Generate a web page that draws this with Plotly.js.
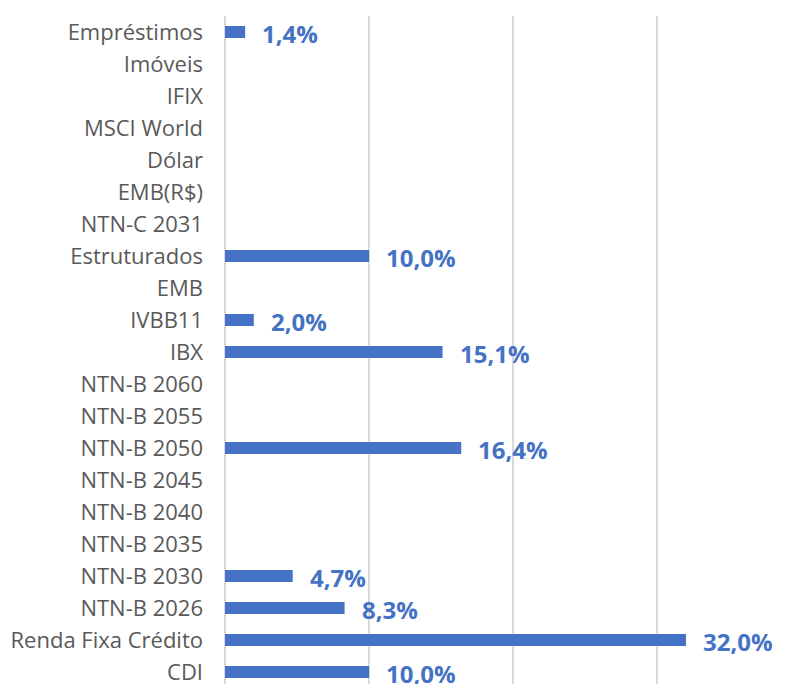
<!DOCTYPE html>
<html>
<head>
<meta charset="utf-8">
<script src="https://cdn.plot.ly/plotly-3.0.1.min.js"></script>
<style>html,body{margin:0;padding:0;background:#fff}#chart{width:794px;height:684px}</style>
</head>
<body>
<div id="chart"></div>
<script>
// Categories from bottom to top
const categories = ["CDI","Renda Fixa Crédito","NTN-B 2026","NTN-B 2030","NTN-B 2035","NTN-B 2040","NTN-B 2045","NTN-B 2050","NTN-B 2055","NTN-B 2060","IBX","IVBB11","EMB","Estruturados","NTN-C 2031","EMB(R$)","Dólar","MSCI World","IFIX","Imóveis","Empréstimos"];
const values = [0.100,0.320,0.083,0.047,null,null,null,0.164,null,null,0.151,0.020,null,0.100,null,null,null,null,null,null,0.014];

const fmt = v => (v*100).toFixed(1).replace('.', ',') + '%';

const annotations = [];
categories.forEach((c,i)=>{
  if (values[i] !== null) {
    annotations.push({
      x: values[i], y: c, xref:'x', yref:'y', text: fmt(values[i]),
      showarrow:false, xanchor:'left', yanchor:'middle', xshift:15, yshift:-1,
      font:{family:'"Open Sans", "Noto Sans", sans-serif', size:24, color:'#4472C4', weight:'bold'}
    });
  }
});

const trace = {
  type:'bar', orientation:'h', x: values, y: categories,
  marker:{color:'#4472C4'}, hoverinfo:'none'
};

const layout = {
  width:794, height:684,
  margin:{l:225, r:0, t:16, b:0},
  paper_bgcolor:'#fff', plot_bgcolor:'#fff',
  bargap:0.625,
  showlegend:false,
  xaxis:{range:[0,0.395], dtick:0.1, tick0:0, showgrid:true, gridcolor:'#d9d9d9', gridwidth:1.5,
         zeroline:true, zerolinecolor:'#d9d9d9', zerolinewidth:1.5, showticklabels:false, fixedrange:true},
  yaxis:{type:'category', categoryorder:'array', categoryarray:categories, range:[-0.375,20.5],
         showgrid:false, zeroline:false, ticks:'', ticklabelstandoff:21,
         tickfont:{family:'"Open Sans", "Noto Sans", sans-serif', size:22, color:'#595959'}},
  annotations: annotations
};

Plotly.newPlot('chart',[trace],layout,{displayModeBar:false, staticPlot:true});
</script>
</body>
</html>
